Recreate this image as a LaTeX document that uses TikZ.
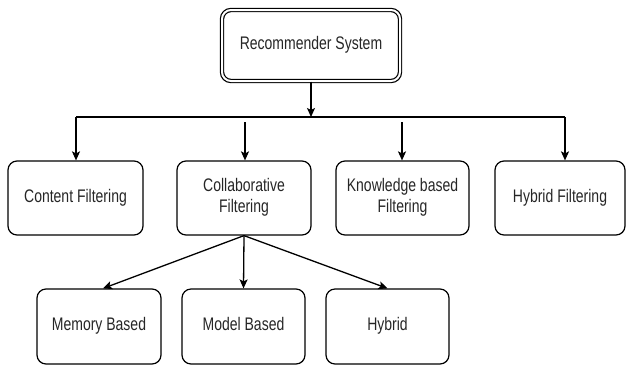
\documentclass[tikz,border=0pt]{standalone}
\usepackage{fontspec}
\setmainfont{Liberation Sans}
\usetikzlibrary{arrows.meta}
\newcommand{\stx}[1]{\scalebox{1}[1.3]{\begin{tabular}{@{}c@{}}#1\end{tabular}}}
\begin{document}
\begin{tikzpicture}[x=1pt,y=-1pt,
  box/.style={draw, rounded corners=9pt, line width=1.2pt, align=center,
    font=\fontsize{14}{16}\selectfont, inner sep=2pt, text=black!85},
  conn/.style={line width=1.3pt},
  arr/.style={conn, -{Stealth[length=9pt,width=8pt,inset=2pt]}}]
\useasboundingbox (0,0) rectangle (626,365);
\node[box, double, double distance=2pt, minimum width=178pt, minimum height=71pt] (rs) at (311,45.5) {\stx{Recommender System}};
\node[box, minimum width=135pt, minimum height=74pt] (cf) at (75.5,198) {\stx{Content Filtering}};
\node[box, minimum width=134pt, minimum height=74pt] (col) at (244,198) {\stx{Collaborative\\Filtering}};
\node[box, minimum width=133pt, minimum height=74pt] (kb) at (402.5,198) {\stx{Knowledge based\\Filtering}};
\node[box, minimum width=130pt, minimum height=74pt] (hf) at (560,198) {\stx{Hybrid Filtering}};
\node[box, minimum width=124pt, minimum height=75pt] (mem) at (99,326.5) {\stx{Memory Based}};
\node[box, minimum width=123pt, minimum height=75pt] (mod) at (243.5,326.5) {\stx{Model Based}};
\node[box, minimum width=123pt, minimum height=75pt] (hyb) at (387.5,326.5) {\stx{Hybrid}};
\coordinate (bl) at (76,117);
\coordinate (br) at (565,117);
\coordinate (bm) at (311,117);
\coordinate (c2) at (245,122);
\coordinate (c3) at (402,122);
\draw[conn] (bl) -- (br);
\draw[arr] (rs.south) -- (bm);
\draw[arr] (bl) -- (bl |- cf.north);
\draw[arr] (br) -- (br |- hf.north);
\draw[arr] (c2) -- (c2 |- col.north);
\draw[arr] (c3) -- (c3 |- kb.north);
\draw[arr] (col.south) -- ([xshift=4pt]mem.north);
\draw[arr] (col.south) -- (mod.north);
\draw[arr] (col.south) -- (hyb.north);
\end{tikzpicture}
\end{document}
